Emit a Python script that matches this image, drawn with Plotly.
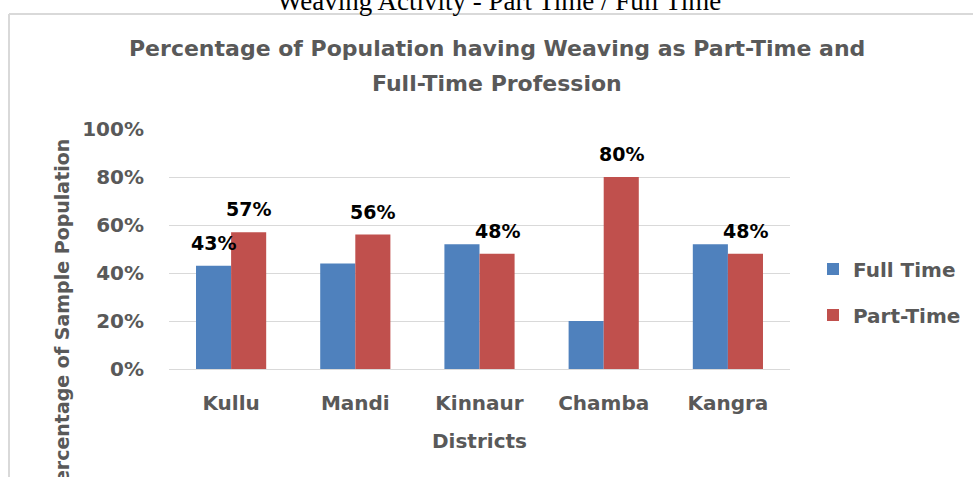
import plotly.graph_objects as go

districts = ["Kullu", "Mandi", "Kinnaur", "Chamba", "Kangra"]
full_time = [0.43, 0.44, 0.52, 0.20, 0.52]
part_time = [0.57, 0.56, 0.48, 0.80, 0.48]
full_labels = ["43%", "", "", "", ""]
part_labels = ["57%", "56%", "48%", "80%", "48%"]
y_ticks = [0, 0.2, 0.4, 0.6, 0.8, 1.0]

BLUE = "#4F81BD"
RED = "#C0504D"
GRAY = "#595959"
FONT = "DejaVu Sans"

W, H = 973, 477
L, R, T, B = 169, 183, 129, 108
PW, PH = W - L - R, H - T - B


def px(x):
    return (x - L) / PW


def py(y):
    return (H - B - y) / PH


fig = go.Figure()
fig.add_trace(go.Bar(name="Full Time", x=districts, y=full_time, marker_color=BLUE,
                     marker_line_width=0, legendgroup="a"))
fig.add_trace(go.Bar(name="Part-Time", x=districts, y=part_time, marker_color=RED,
                     marker_line_width=0, legendgroup="b"))

lab_font = dict(family=FONT, size=19, color="black", weight="bold")
ann = []
for d, v, t in zip(districts, full_time, full_labels):
    if t:
        ann.append(dict(x=d, y=v, xref="x", yref="y", text=t, showarrow=False,
                        xshift=-17.5, yshift=23, yanchor="middle", font=lab_font))
for d, v, t in zip(districts, part_time, part_labels):
    if t:
        ann.append(dict(x=d, y=v, xref="x", yref="y", text=t, showarrow=False,
                        xshift=17.5, yshift=23, yanchor="middle", font=lab_font))

ann.append(dict(x=px(499), y=py(18), xref="paper", yref="paper",
                text="Weaving Activity - Part Time / Full Time", showarrow=False,
                yanchor="bottom", font=dict(family="Liberation Serif", size=27, color="black")))
title_font = dict(family=FONT, size=22, color=GRAY, weight="bold")
ann.append(dict(x=px(497), y=py(48), xref="paper", yref="paper",
                text="Percentage of Population having Weaving as Part-Time and", showarrow=False,
                yanchor="middle", font=title_font))
ann.append(dict(x=px(497), y=py(83), xref="paper", yref="paper",
                text="Full-Time Profession", showarrow=False,
                yanchor="middle", font=title_font))
ann.append(dict(x=px(62), y=py(318), xref="paper", yref="paper",
                text="Percentage of Sample Population", showarrow=False, textangle=-90,
                xanchor="center", yanchor="middle",
                font=dict(family=FONT, size=19, color=GRAY, weight="bold")))
ann.append(dict(x=0.5, y=py(441), xref="paper", yref="paper",
                text="Districts", showarrow=False, yanchor="middle",
                font=dict(family=FONT, size=20, color=GRAY, weight="bold")))

shapes = [
    dict(type="line", xref="paper", yref="paper", x0=px(9), x1=px(9), y0=py(14), y1=py(500),
         line=dict(color="#D9D9D9", width=2)),
    dict(type="line", xref="paper", yref="paper", x0=px(9), x1=px(1000), y0=py(14), y1=py(14),
         line=dict(color="#D9D9D9", width=2)),
]

fig.update_layout(
    width=W, height=H, autosize=False,
    margin=dict(l=L, r=R, t=T, b=B, pad=0, autoexpand=False),
    plot_bgcolor="white", paper_bgcolor="white",
    barmode="group", bargap=0.435, bargroupgap=0,
    annotations=ann, shapes=shapes,
    legend=dict(x=px(813), y=py(292), xanchor="left", yanchor="middle",
                font=dict(family=FONT, size=20, color=GRAY, weight="bold"),
                tracegroupgap=17, bgcolor="rgba(0,0,0,0)"),
    xaxis=dict(showgrid=False, showline=False, ticks="", ticklabelstandoff=20,
               tickfont=dict(family=FONT, size=20, color=GRAY, weight="bold")),
    yaxis=dict(range=[0, 1], tickvals=y_ticks, tickformat=".0%", showgrid=True,
               gridcolor="#D9D9D9", gridwidth=1, zeroline=True, zerolinecolor="#D9D9D9",
               zerolinewidth=1, showline=False, ticks="", ticklabelstandoff=24,
               tickfont=dict(family=FONT, size=20, color=GRAY, weight="bold")),
)

fig.write_html("out.html", config={"displayModeBar": False},
               post_script="document.body.style.margin='0';document.body.style.overflow='hidden';")
